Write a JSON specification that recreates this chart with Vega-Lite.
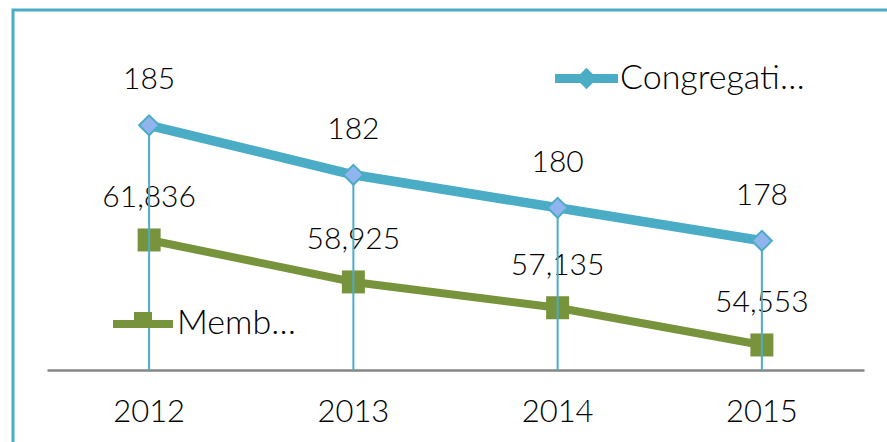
{
  "$schema": "https://vega.github.io/schema/vega-lite/v6.json",
  "width": 878,
  "height": 436,
  "autosize": {"type": "none"},
  "padding": {"left": 13, "top": 10, "right": -4, "bottom": -4},
  "background": "white",
  "config": {
    "font": "Lato",
    "view": {"stroke": "#4bacc6", "strokeWidth": 3},
    "text": {"color": "#000000", "fontWeight": 300}
  },
  "data": {
    "values": [
      {"year": "2012", "Congregations": 185, "Members": 61836},
      {"year": "2013", "Congregations": 182, "Members": 58925},
      {"year": "2014", "Congregations": 180, "Members": 57135},
      {"year": "2015", "Congregations": 178, "Members": 54553}
    ]
  },
  "encoding": {
    "x": {
      "field": "year",
      "type": "ordinal",
      "scale": {"type": "band", "range": [34, 851], "paddingInner": 0, "paddingOuter": 0},
      "axis": {
        "title": null,
        "offset": -76,
        "ticks": false,
        "tickSize": 0,
        "grid": false,
        "domainColor": "#868686",
        "domainWidth": 2.5,
        "labelFontSize": 31,
        "labelFontWeight": 300,
        "labelColor": "#000000",
        "labelBaseline": "middle",
        "labelPadding": 42,
        "labelAngle": 0
      }
    }
  },
  "layer": [
    {
      "encoding": {
        "y": {
          "field": "Members",
          "type": "quantitative",
          "scale": {"domain": [50000, 80000], "range": [400.6, -31.9], "nice": false, "zero": false},
          "axis": null
        }
      },
      "layer": [
        {
          "mark": {"type": "line", "strokeWidth": 8},
          "encoding": {
            "color": {
              "datum": "Members",
              "scale": {"range": ["#77933c"]},
              "legend": {
                "orient": "none",
                "legendX": 100,
                "legendY": 284,
                "title": null,
                "padding": 0,
                "labelFontSize": 34,
                "labelFontWeight": 300,
                "labelColor": "#000000",
                "labelLimit": 128,
                "labelOffset": 4,
                "symbolType": "M-1,-0.13H1V0.13H-1Z M-0.3,-0.4H0.3V0H-0.3Z",
                "symbolSize": 3600,
                "symbolFillColor": "#77933c",
                "symbolStrokeWidth": 0
              }
            }
          }
        },
        {
          "mark": {"type": "point", "shape": "square", "filled": true, "size": 529, "color": "#77933c", "opacity": 1}
        },
        {
          "mark": {"type": "text", "dy": -42, "fontSize": 30, "baseline": "middle"},
          "encoding": {"text": {"field": "Members", "type": "quantitative", "format": ","}}
        }
      ]
    },
    {
      "encoding": {
        "y": {
          "field": "Congregations",
          "type": "quantitative",
          "scale": {"domain": [170, 192], "range": [362.8, -0.2], "nice": false, "zero": false},
          "axis": null
        }
      },
      "layer": [
        {
          "mark": {"type": "line", "strokeWidth": 9.5},
          "encoding": {
            "color": {
              "datum": "Congregations",
              "scale": {"range": ["#4bacc6"]},
              "legend": {
                "orient": "none",
                "legendX": 542,
                "legendY": 37,
                "title": null,
                "padding": 0,
                "labelFontSize": 34,
                "labelFontWeight": 300,
                "labelColor": "#000000",
                "labelLimit": 196,
                "labelOffset": 2,
                "symbolType": "M-1,-0.14H1V0.14H-1Z M0,-0.34L0.34,0L0,0.34L-0.34,0Z",
                "symbolSize": 3969,
                "symbolFillColor": "#4bacc6",
                "symbolStrokeWidth": 0
              }
            }
          }
        },
        {
          "mark": {"type": "rule", "strokeWidth": 2, "color": "#4bacc6"},
          "encoding": {"y2": {"datum": 170.17}}
        },
        {
          "mark": {"type": "point", "shape": "diamond", "filled": true, "size": 400, "fill": "#8fb4ee", "stroke": "#4bacc6", "strokeWidth": 2, "opacity": 1}
        },
        {
          "mark": {"type": "text", "dy": -45, "fontSize": 30, "baseline": "middle"},
          "encoding": {"text": {"field": "Congregations", "type": "quantitative"}}
        }
      ]
    }
  ],
  "resolve": {
    "scale": {"y": "independent", "color": "independent"},
    "legend": {"color": "independent"}
  }
}
